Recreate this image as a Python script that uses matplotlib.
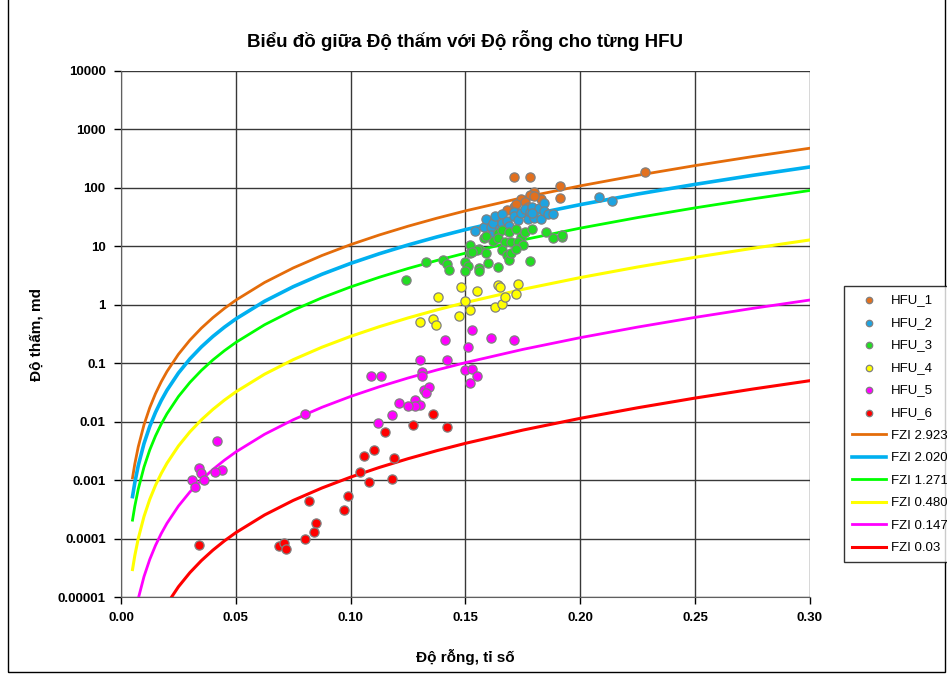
import matplotlib
matplotlib.use("Agg")
import matplotlib.pyplot as plt
from matplotlib.patches import Rectangle

plt.rcParams['font.family'] = ['Liberation Sans', 'DejaVu Sans']

# --- diem du lieu tung HFU (do rong, do tham md) ---
hfu1_phi = [0.171, 0.178, 0.191, 0.191, 0.228, 0.180, 0.178, 0.174, 0.176, 0.183,
            0.171, 0.168, 0.177, 0.172, 0.180]
hfu1_k = [153, 153, 108, 67, 187, 85, 75, 65, 57, 65, 47, 42, 47, 53, 73]

hfu2_phi = [0.154, 0.158, 0.159, 0.161, 0.162, 0.161, 0.163, 0.165, 0.166, 0.166,
            0.168, 0.169, 0.171, 0.171, 0.173, 0.174, 0.176, 0.177, 0.178, 0.179,
            0.180, 0.182, 0.183, 0.184, 0.184, 0.186, 0.188, 0.208, 0.214, 0.179]
hfu2_k = [18.3, 21.4, 29, 21.4, 25, 15.6, 33, 20.6, 36, 25,
          27, 22, 39, 33, 28, 37, 44, 29, 39, 47,
          31, 45, 29, 55, 40, 36, 36, 70, 60, 37]

hfu3_phi = [0.124, 0.133, 0.140, 0.142, 0.143, 0.150, 0.151, 0.150, 0.152, 0.152,
            0.156, 0.156, 0.156, 0.158, 0.159, 0.160, 0.162, 0.164, 0.164, 0.164,
            0.166, 0.167, 0.166, 0.168, 0.169, 0.170, 0.169, 0.172, 0.170, 0.174,
            0.173, 0.175, 0.176, 0.179, 0.178, 0.185, 0.188, 0.192, 0.192, 0.155,
            0.153, 0.159, 0.172]
hfu3_k = [2.7, 5.4, 5.8, 5.0, 3.9, 5.4, 4.6, 3.8, 10.5, 7.7,
          4.3, 3.8, 9.0, 13.9, 7.7, 5.2, 12.3, 16.9, 4.4, 13.9,
          19.0, 11.9, 8.6, 7.1, 5.8, 7.7, 17.6, 19.8, 11.9, 14.4,
          11.9, 10.5, 17.6, 19.8, 5.6, 17.6, 13.9, 14.4, 15.6, 8.6,
          8.0, 15.0, 9.0]

hfu4_phi = [0.130, 0.136, 0.137, 0.138, 0.147, 0.148, 0.150, 0.152, 0.155, 0.163,
            0.164, 0.165, 0.166, 0.167, 0.172, 0.173]
hfu4_k = [0.51, 0.57, 0.45, 1.36, 0.64, 2.0, 1.16, 0.81, 1.72, 0.92,
          2.18, 2.0, 1.03, 1.36, 1.53, 2.27]

hfu5_phi = [0.153, 0.141, 0.161, 0.171, 0.151, 0.130, 0.142, 0.131, 0.131, 0.150,
            0.153, 0.155, 0.152, 0.109, 0.113, 0.132, 0.134, 0.133, 0.128, 0.130,
            0.128, 0.125, 0.121, 0.118, 0.112, 0.080, 0.042, 0.044, 0.041, 0.034,
            0.035, 0.036, 0.031, 0.032]
hfu5_k = [0.37, 0.25, 0.27, 0.25, 0.19, 0.113, 0.113, 0.071, 0.060, 0.077,
          0.080, 0.060, 0.046, 0.060, 0.060, 0.035, 0.039, 0.031, 0.0234, 0.0193,
          0.0185, 0.0185, 0.0208, 0.0130, 0.0095, 0.0135, 0.0047, 0.0015, 0.00138, 0.0016,
          0.00132, 0.0010, 0.0010, 0.00076]

hfu6_phi = [0.136, 0.127, 0.142, 0.115, 0.110, 0.106, 0.119, 0.104, 0.108, 0.118,
            0.099, 0.097, 0.082, 0.085, 0.084, 0.080, 0.069, 0.071, 0.072, 0.034]
hfu6_k = [0.0135, 0.0088, 0.0081, 0.0067, 0.0033, 0.0026, 0.0024, 0.00138, 0.00093, 0.00104,
          0.00053, 0.00031, 0.00044, 0.000184, 0.000129, 0.000098, 0.000074, 0.000084, 0.000066, 0.000077]

# --- duong FZI ---
fzi_phi = [0.005, 0.006, 0.0075, 0.01, 0.0125, 0.015, 0.0175, 0.02, 0.025, 0.03,
           0.035, 0.04, 0.045, 0.05, 0.0625, 0.075, 0.0875, 0.1, 0.1125, 0.125,
           0.1375, 0.15, 0.175, 0.2, 0.225, 0.25, 0.275, 0.3]
fzi_2923 = [1.094e-3, 1.894e-3, 3.710e-3, 8.839e-3, 0.01735, 0.03014, 0.04810, 0.07217, 0.1424, 0.2486,
            0.3989, 0.6016, 0.8656, 1.200, 2.407, 4.272, 6.970, 10.70, 15.66, 22.10,
            30.28, 40.47, 68.22, 108.3, 164.3, 240.7, 342.8, 477.4]
fzi_2020 = [5.224e-4, 9.045e-4, 1.772e-3, 4.222e-3, 8.287e-3, 0.01439, 0.02297, 0.03447, 0.06801, 0.1187,
            0.1905, 0.2873, 0.4134, 0.5730, 1.149, 2.040, 3.329, 5.108, 7.479, 10.56,
            14.46, 19.33, 32.58, 51.72, 78.47, 114.9, 163.7, 228.0]
fzi_1271 = [2.068e-4, 3.581e-4, 7.016e-4, 1.671e-3, 3.281e-3, 5.698e-3, 9.095e-3, 0.01365, 0.02693, 0.04701,
            0.07542, 0.1138, 0.1637, 0.2269, 0.4550, 0.8077, 1.318, 2.022, 2.961, 4.179,
            5.724, 7.652, 12.90, 20.48, 31.07, 45.50, 64.81, 90.26]
fzi_0480 = [2.950e-5, 5.108e-5, 1.001e-4, 2.384e-4, 4.679e-4, 8.127e-4, 1.297e-3, 1.946e-3, 3.840e-3, 6.704e-3,
            0.01076, 0.01622, 0.02334, 0.03236, 0.06490, 0.1152, 0.1880, 0.2884, 0.4223, 0.5960,
            0.8164, 1.091, 1.840, 2.920, 4.431, 6.490, 9.244, 12.87]
fzi_0147 = [2.767e-6, 4.790e-6, 9.385e-6, 2.236e-5, 4.389e-5, 7.622e-5, 1.217e-4, 1.825e-4, 3.602e-4, 6.288e-4,
            1.009e-3, 1.522e-3, 2.189e-3, 3.035e-3, 6.087e-3, 0.01080, 0.01763, 0.02705, 0.03961, 0.05590,
            0.07657, 0.1024, 0.1725, 0.2739, 0.4156, 0.6087, 0.8670, 1.207]
fzi_003 = [1.152e-7, 1.995e-7, 3.909e-7, 9.311e-7, 1.828e-6, 3.175e-6, 5.067e-6, 7.602e-6, 1.500e-5, 2.619e-5,
           4.202e-5, 6.337e-5, 9.118e-5, 1.264e-4, 2.535e-4, 4.500e-4, 7.342e-4, 1.127e-3, 1.650e-3, 2.328e-3,
           3.189e-3, 4.263e-3, 7.186e-3, 0.01141, 0.01731, 0.02535, 0.03611, 0.05029]

fig = plt.figure(figsize=(9.47, 6.74), dpi=100)
ax = fig.add_axes([0.1278, 0.1142, 0.7275, 0.7805])

pts = [(hfu1_phi, hfu1_k, '#E2701E', 'HFU_1'),
       (hfu2_phi, hfu2_k, '#1EA3E0', 'HFU_2'),
       (hfu3_phi, hfu3_k, '#22DD22', 'HFU_3'),
       (hfu4_phi, hfu4_k, '#FFFF00', 'HFU_4'),
       (hfu5_phi, hfu5_k, '#FF00FF', 'HFU_5'),
       (hfu6_phi, hfu6_k, '#FF0000', 'HFU_6')]
for px, py, c, lab in pts:
    ax.scatter(px, py, s=44, c=c, edgecolors='#808080', linewidths=0.9, label=lab, zorder=4)

lines = [(fzi_2923, '#E46C0A', 2.0, 'FZI 2.923'),
         (fzi_2020, '#00B0F0', 2.6, 'FZI 2.020'),
         (fzi_1271, '#00FF00', 2.0, 'FZI 1.271'),
         (fzi_0480, '#FFFF00', 2.2, 'FZI 0.480'),
         (fzi_0147, '#FF00FF', 2.0, 'FZI 0.147'),
         (fzi_003, '#FF0000', 2.2, 'FZI 0.03')]
for ky, c, lw, lab in lines:
    ax.plot(fzi_phi, ky, color=c, lw=lw, label=lab, zorder=3)

ax.set_yscale('log')
ax.set_xlim(0, 0.30)
ax.set_ylim(1e-5, 1e4)
yt = [1e-5, 1e-4, 1e-3, 1e-2, 1e-1, 1, 10, 100, 1000, 10000]
ax.set_yticks(yt)
ax.set_yticklabels(['0.00001', '0.0001', '0.001', '0.01', '0.1', '1', '10', '100', '1000', '10000'])
ax.minorticks_off()
xt = [0, 0.05, 0.10, 0.15, 0.20, 0.25, 0.30]
ax.set_xticks(xt)
ax.set_xticklabels(['%.2f' % v for v in xt])
ax.tick_params(labelsize=9.5, length=5, width=1, direction='out', pad=6)
for lbl in ax.get_xticklabels() + ax.get_yticklabels():
    lbl.set_fontweight('bold')
ax.grid(True, color='#383838', lw=1.0)
ax.set_axisbelow(True)
for s in ['top', 'right']:
    ax.spines[s].set_visible(False)
for s in ['left', 'bottom']:
    ax.spines[s].set_color('#606060')

ax.set_title('Biểu đồ giữa Độ thấm với Độ rỗng cho từng HFU', fontsize=13.5, fontweight='bold', pad=17)
ax.set_xlabel('Độ rỗng, tỉ số', fontsize=11, fontweight='bold', labelpad=18)
ax.set_ylabel('Độ thấm, md', fontsize=11, fontweight='bold', labelpad=10)

leg = fig.legend(loc='upper left', bbox_to_anchor=(0.884, 0.585), fontsize=9.5,
                 frameon=True, fancybox=False, edgecolor='black', handlelength=2.6,
                 handletextpad=0.4, labelspacing=0.78, borderpad=0.6, markerscale=0.7)
leg.get_frame().set_linewidth(1.0)

fig.patches.append(Rectangle((0.008, 0.003), 0.99, 1.2, transform=fig.transFigure,
                             fill=False, edgecolor='black', lw=1.0))

fig.savefig('out.png', dpi=100)
